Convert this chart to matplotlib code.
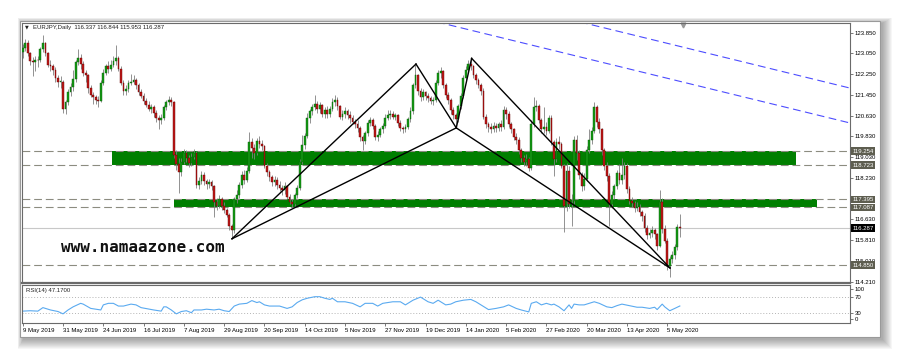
import matplotlib
matplotlib.use("Agg")
import matplotlib.pyplot as plt
from matplotlib.patches import Rectangle

plt.rcParams["font.family"] = ["Liberation Sans", "DejaVu Sans"]

W, H = 900, 359

# EURJPY daily candles, 9 May 2019 .. 12 May 2020 (16 bars per row)
opens = [
    123.10, 123.25, 123.45, 123.05, 122.75, 122.70, 122.80, 122.78, 123.20, 123.45, 123.05, 122.60, 122.55, 122.40, 122.10, 121.95,
    121.95, 120.90, 121.15, 121.55, 121.75, 122.05, 122.70, 122.85, 122.65, 122.30, 122.20, 121.70, 121.45, 121.35, 121.25, 121.20,
    121.90, 122.30, 122.55, 122.45, 122.60, 122.75, 122.85, 122.45, 121.90, 121.60, 121.65, 121.90, 121.95, 122.00, 121.80, 121.55,
    121.40, 121.20, 121.05, 120.90, 120.95, 120.75, 120.55, 120.45, 120.55, 120.95, 121.15, 121.25, 121.15, 119.10, 118.75, 118.45,
    118.85, 119.20, 119.00, 118.80, 119.05, 119.20, 117.95, 118.10, 118.35, 118.10, 118.00, 118.05, 117.90, 117.30, 117.15, 117.40,
    117.15, 117.00, 116.80, 116.35, 116.20, 117.40, 117.55, 117.95, 118.35, 118.15, 118.50, 119.60, 119.40, 119.20, 119.65, 119.55,
    119.45, 118.70, 118.45, 118.25, 118.05, 118.15, 117.95, 117.85, 117.75, 117.90, 117.50, 117.30, 117.20, 117.55, 117.85, 118.85,
    119.50, 119.85, 120.55, 120.80, 120.95, 121.10, 120.90, 121.05, 120.70, 120.85, 120.70, 120.90, 121.15, 121.25, 121.00, 120.60,
    120.70, 120.80, 120.65, 120.55, 120.40, 120.30, 120.15, 119.80, 119.65, 119.95, 120.35, 120.45, 120.25, 119.80, 119.90, 120.10,
    120.25, 120.55, 120.65, 120.70, 120.60, 120.65, 120.35, 120.15, 120.10, 120.20, 120.50, 120.80, 121.80, 122.20, 121.60, 121.35,
    121.55, 121.40, 121.30, 121.20, 121.25, 121.90, 122.30, 122.35, 121.80, 121.45, 121.25, 120.85, 120.65, 120.50, 121.00, 121.40,
    122.10, 122.40, 122.65, 122.55, 122.20, 122.00, 121.80, 121.60, 120.60, 120.30, 120.20, 120.10, 120.25, 120.15, 120.30, 120.20,
    120.85, 120.70, 120.30, 120.10, 119.80, 119.70, 119.30, 119.00, 118.85, 118.95, 118.60, 120.30, 120.95, 121.00, 120.45, 120.10,
    120.20, 120.05, 120.55, 119.60, 118.95, 119.60, 119.55, 118.70, 117.15, 118.50, 117.20, 117.35, 119.70, 119.20, 118.35, 117.90,
    118.20, 119.30, 119.70, 120.05, 120.95, 120.40, 120.10, 119.30, 118.70, 118.30, 117.20, 117.55, 117.90, 118.40, 118.15, 118.35,
    118.70, 117.80, 117.35, 117.25, 117.05, 117.10, 116.90, 116.75, 116.30, 116.00, 116.10, 116.20, 116.05, 115.60, 117.30, 116.25,
    115.80, 114.80, 115.10, 115.25, 115.55, 116.337,
]
highs = [
    123.40, 123.60, 123.55, 123.10, 122.90, 122.95, 122.95, 123.30, 123.75, 123.50, 123.10, 122.80, 122.65, 122.50, 122.20, 122.15,
    122.00, 121.25, 121.65, 121.90, 122.40, 122.80, 123.20, 123.00, 122.75, 122.40, 122.25, 121.80, 121.55, 121.45, 121.40, 122.00,
    122.45, 122.65, 122.75, 122.80, 122.95, 123.35, 122.95, 122.55, 122.00, 121.80, 122.00, 122.25, 122.20, 122.10, 121.90, 121.65,
    121.50, 121.30, 121.20, 121.10, 121.05, 120.85, 120.65, 120.70, 121.05, 121.25, 121.40, 121.35, 121.20, 119.30, 119.00, 119.00,
    119.35, 119.30, 119.10, 119.20, 119.35, 119.25, 118.25, 118.50, 118.45, 118.20, 118.20, 118.15, 117.95, 117.45, 117.55, 117.50,
    117.30, 117.05, 116.85, 116.45, 117.50, 117.75, 118.05, 118.50, 118.55, 118.65, 120.00, 119.75, 119.55, 119.75, 119.85, 119.70,
    119.50, 118.80, 118.55, 118.35, 118.30, 118.25, 118.10, 117.95, 118.05, 117.95, 117.60, 117.40, 117.65, 117.95, 118.95, 119.90,
    119.95, 120.75, 120.90, 121.10, 121.43, 121.20, 121.15, 121.10, 120.95, 121.00, 121.00, 121.30, 121.43, 121.35, 121.05, 120.85,
    120.95, 120.90, 120.80, 120.65, 120.50, 120.45, 120.25, 119.90, 120.05, 120.45, 120.60, 120.55, 120.30, 120.05, 120.20, 120.35,
    120.70, 120.85, 120.85, 120.80, 120.75, 120.70, 120.45, 120.25, 120.30, 120.60, 120.95, 121.90, 122.63, 122.25, 121.70, 121.65,
    121.60, 121.50, 121.40, 121.35, 122.00, 122.40, 122.53, 122.40, 121.90, 121.55, 121.30, 120.95, 120.75, 121.10, 121.50, 122.20,
    122.55, 122.80, 122.85, 122.60, 122.30, 122.10, 121.90, 121.70, 120.70, 120.40, 120.35, 120.40, 120.35, 120.40, 120.45, 121.00,
    120.95, 120.80, 120.40, 120.15, 119.95, 119.80, 119.40, 119.10, 119.15, 119.05, 120.45, 121.37, 121.25, 121.10, 120.55, 120.95,
    120.40, 120.65, 120.65, 119.70, 119.75, 119.85, 119.60, 118.75, 118.80, 118.70, 117.60, 119.85, 119.90, 119.30, 118.45, 118.40,
    119.45, 120.10, 120.20, 121.17, 121.05, 120.55, 120.15, 119.40, 118.85, 118.40, 117.70, 118.00, 118.55, 118.75, 119.00, 118.85,
    118.80, 117.90, 117.50, 117.35, 117.30, 117.20, 117.00, 116.85, 116.40, 116.25, 116.35, 116.30, 116.10, 117.76, 117.45, 116.40,
    115.90, 115.20, 115.40, 115.65, 116.45, 116.844,
]
lows = [
    122.85, 123.15, 122.95, 122.60, 122.15, 122.35, 122.50, 122.70, 123.10, 122.95, 122.50, 122.35, 122.20, 121.95, 121.75, 121.70,
    120.75, 120.70, 121.05, 121.40, 121.60, 121.95, 122.60, 122.45, 122.15, 121.95, 121.50, 121.35, 121.10, 121.10, 120.95, 121.15,
    121.80, 122.20, 122.30, 122.35, 122.50, 122.60, 122.35, 121.80, 121.45, 121.45, 121.55, 121.80, 121.85, 121.65, 121.45, 121.30,
    121.10, 120.95, 120.80, 120.75, 120.60, 120.40, 120.10, 120.30, 120.45, 120.85, 121.05, 121.00, 119.00, 118.55, 117.65, 118.30,
    118.75, 118.85, 118.65, 118.70, 118.95, 117.85, 117.80, 118.00, 117.95, 117.80, 117.85, 117.75, 116.70, 117.00, 117.05, 117.00,
    116.85, 116.70, 116.20, 115.87, 116.10, 117.25, 117.45, 117.85, 118.00, 118.05, 118.40, 119.00, 118.95, 119.10, 119.40, 119.30,
    118.60, 118.30, 118.10, 117.90, 117.90, 117.80, 117.70, 117.55, 117.60, 117.40, 117.20, 117.10, 117.10, 117.45, 117.75, 118.75,
    119.35, 119.75, 120.35, 120.65, 120.85, 120.75, 120.75, 120.60, 120.55, 120.55, 120.60, 120.80, 121.00, 120.85, 120.50, 120.45,
    120.55, 120.50, 120.35, 120.30, 120.15, 120.00, 119.65, 119.30, 119.55, 119.85, 120.25, 120.10, 119.70, 119.65, 119.80, 119.95,
    120.15, 120.45, 120.50, 120.50, 120.45, 120.25, 120.05, 119.95, 120.00, 120.10, 120.40, 120.70, 121.70, 121.45, 121.20, 121.25,
    121.25, 121.15, 121.10, 121.05, 121.15, 121.80, 122.10, 121.70, 121.30, 121.10, 120.70, 120.50, 120.16, 120.40, 120.90, 121.30,
    122.00, 122.30, 122.40, 122.10, 121.85, 121.70, 121.45, 120.50, 120.15, 120.00, 119.95, 120.00, 120.00, 120.05, 120.05, 120.10,
    120.50, 120.20, 119.95, 119.70, 119.55, 119.15, 118.85, 118.70, 118.70, 118.50, 118.55, 120.20, 120.80, 120.35, 119.95, 119.95,
    119.90, 119.95, 119.50, 118.30, 118.85, 119.35, 118.60, 116.15, 116.95, 117.05, 116.35, 117.20, 118.90, 118.20, 117.70, 117.75,
    118.10, 119.20, 119.55, 119.95, 120.20, 119.95, 119.10, 118.55, 118.10, 116.35, 117.05, 117.40, 117.80, 118.00, 118.00, 118.20,
    117.65, 117.20, 117.10, 116.90, 116.95, 116.75, 116.55, 116.15, 115.85, 115.90, 115.95, 115.85, 115.45, 115.55, 116.10, 115.70,
    114.65, 114.40, 114.95, 115.10, 115.45, 115.953,
]
closes = [
    123.25, 123.45, 123.05, 122.75, 122.70, 122.80, 122.78, 123.20, 123.45, 123.05, 122.60, 122.55, 122.40, 122.10, 121.95, 121.95,
    120.90, 121.15, 121.55, 121.75, 122.05, 122.70, 122.85, 122.65, 122.30, 122.20, 121.70, 121.45, 121.35, 121.25, 121.20, 121.90,
    122.30, 122.55, 122.45, 122.60, 122.75, 122.85, 122.45, 121.90, 121.60, 121.65, 121.90, 121.95, 122.00, 121.80, 121.55, 121.40,
    121.20, 121.05, 120.90, 120.95, 120.75, 120.55, 120.45, 120.55, 120.95, 121.15, 121.25, 121.15, 119.10, 118.75, 118.45, 118.85,
    119.20, 119.00, 118.80, 119.05, 119.20, 117.95, 118.10, 118.35, 118.10, 118.00, 118.05, 117.90, 117.30, 117.15, 117.40, 117.15,
    117.00, 116.80, 116.35, 116.20, 117.40, 117.55, 117.95, 118.35, 118.15, 118.50, 119.60, 119.40, 119.20, 119.65, 119.55, 119.45,
    118.70, 118.45, 118.25, 118.05, 118.15, 117.95, 117.85, 117.75, 117.90, 117.50, 117.30, 117.20, 117.55, 117.85, 118.85, 119.50,
    119.85, 120.55, 120.80, 120.95, 121.10, 120.90, 121.05, 120.70, 120.85, 120.70, 120.90, 121.15, 121.25, 121.00, 120.60, 120.70,
    120.80, 120.65, 120.55, 120.40, 120.30, 120.15, 119.80, 119.65, 119.95, 120.35, 120.45, 120.25, 119.80, 119.90, 120.10, 120.25,
    120.55, 120.65, 120.70, 120.60, 120.65, 120.35, 120.15, 120.10, 120.20, 120.50, 120.80, 121.80, 122.20, 121.60, 121.35, 121.55,
    121.40, 121.30, 121.20, 121.25, 121.90, 122.30, 122.35, 121.80, 121.45, 121.25, 120.85, 120.65, 120.50, 121.00, 121.40, 122.10,
    122.40, 122.65, 122.55, 122.20, 122.00, 121.80, 121.60, 120.60, 120.30, 120.20, 120.10, 120.25, 120.15, 120.30, 120.20, 120.85,
    120.70, 120.30, 120.10, 119.80, 119.70, 119.30, 119.00, 118.85, 118.95, 118.60, 120.30, 120.95, 121.00, 120.45, 120.10, 120.20,
    120.05, 120.55, 119.60, 118.95, 119.60, 119.55, 118.70, 117.15, 118.50, 117.20, 117.35, 119.70, 119.20, 118.35, 117.90, 118.20,
    119.30, 119.70, 120.05, 120.95, 120.40, 120.10, 119.30, 118.70, 118.30, 117.20, 117.55, 117.90, 118.40, 118.15, 118.35, 118.70,
    117.80, 117.35, 117.25, 117.05, 117.10, 116.90, 116.75, 116.30, 116.00, 116.10, 116.20, 116.05, 115.60, 117.30, 116.25, 115.80,
    114.80, 115.10, 115.25, 115.55, 116.34, 116.287,
]

date_bars = [0, 16, 32, 48, 64, 80, 96, 112, 128, 144, 160, 176, 192, 208, 224, 240, 256]
date_labels = ["9 May 2019", "31 May 2019", "24 Jun 2019", "16 Jul 2019", "7 Aug 2019",
               "29 Aug 2019", "20 Sep 2019", "14 Oct 2019", "5 Nov 2019", "27 Nov 2019",
               "19 Dec 2019", "14 Jan 2020", "5 Feb 2020", "27 Feb 2020", "20 Mar 2020",
               "13 Apr 2020", "5 May 2020"]

# 117.430 sits fully under the 117.395 tag in the original, so it is left out
price_ticks = [123.85, 123.05, 122.25, 121.45, 120.63, 119.83, 119.03, 118.23,
               116.63, 115.81, 115.01, 114.21]

# supply / demand zones (bar range, price range) and marked levels
zone_bars = [(35.5, 307.1), (60.1, 315.3)]
zone_prices = [(118.723, 119.254), (117.087, 117.395)]
level_prices = [119.254, 118.723, 117.395, 117.087, 114.850]
last_price = 116.287

# harmonic pattern X, A, B, C, D
pat_bars = [83.1, 156.2, 172.2, 178.3, 257.1]
pat_prices = [115.87, 122.63, 120.16, 122.85, 114.74]

# blue dashed channel lines
chan_bars = [(164.5, 328.6), (221.3, 328.6)]
chan_prices = [(124.26, 120.35), (124.26, 121.70)]

rsi_bars = [0, 3, 6, 8, 11, 14, 16, 18, 20, 23, 24, 27, 29, 31, 32, 34, 36, 38, 40, 43,
            45, 47, 52, 55, 56, 57, 59, 61, 63, 65, 67, 68, 71, 73, 76, 78, 80, 82, 84, 86,
            89, 91, 93, 94, 96, 98, 102, 105, 107, 109, 111, 113, 116, 118, 120, 122, 123, 125, 128, 131,
            134, 136, 139, 141, 143, 147, 150, 152, 155, 158, 161, 163, 165, 168, 170, 172, 175, 178, 180, 182,
            185, 188, 191, 193, 196, 198, 201, 202, 204, 206, 208, 210, 211, 213, 215, 217, 218, 219, 221, 223,
            225, 227, 229, 232, 234, 236, 238, 241, 244, 246, 249, 251, 252, 254, 255, 257, 259, 261]
rsi_vals = [34, 35, 34, 43, 37, 33, 27, 37, 45, 54, 52, 41, 39, 37, 50, 54, 54, 47, 47, 52,
            50, 43, 37, 34, 45, 45, 37, 27, 33, 35, 30, 37, 37, 39, 37, 39, 35, 33, 47, 52,
            54, 61, 56, 58, 50, 47, 47, 41, 45, 56, 63, 67, 71, 71, 67, 64, 67, 58, 58, 54,
            45, 54, 54, 47, 54, 58, 58, 50, 62, 70, 58, 54, 62, 50, 52, 58, 62, 64, 58, 50,
            38, 41, 45, 50, 41, 37, 32, 54, 58, 50, 54, 50, 52, 45, 35, 50, 41, 52, 50, 50,
            54, 58, 54, 45, 43, 48, 52, 48, 44, 44, 41, 44, 38, 52, 45, 35, 41, 47.17]

fig = plt.figure(figsize=(W / 100, H / 100), dpi=100)

# window chrome: soft drop shadow and frame
bg = fig.add_axes([0, 0, 1, 1], zorder=-10)
bg.set_xlim(0, W)
bg.set_ylim(H, 0)
bg.axis("off")
for k in range(10):
    bg.add_patch(Rectangle((20 - k * 0.6 + 3, 20 - k * 0.6 + 3), 860 + k * 1.6, 317 + k * 1.6,
                           fc="black", ec="none", alpha=0.035))
bg.add_patch(Rectangle((20, 20.5), 860, 316.5, fc="white", ec="#9a9a9a", lw=0.8))

x0, x1 = 22, 850
ax = fig.add_axes([x0 / W, 1 - 283.3 / H, (x1 - x0) / W, (283.3 - 22.5) / H])
ax_rsi = fig.add_axes([x0 / W, 1 - 323.3 / H, (x1 - x0) / W, (323.3 - 285) / H])

xlim = (-0.3, 328.6)

# ---------------- main price panel ----------------
ax.set_xlim(*xlim)
ax.set_ylim(114.148, 124.237)

for (b0, b1), (p0, p1) in zip(zone_bars, zone_prices):
    ax.add_patch(Rectangle((b0, p0), b1 - b0, p1 - p0, fc="#007f00", ec="none", zorder=1))
for lv in level_prices:
    ax.axhline(lv, color="#8c8c80", lw=0.8, dashes=(7, 3.5), zorder=1.5)
ax.axhline(last_price, color="#c8c8c8", lw=0.8, zorder=1.2)

for (b0, b1), (p0, p1) in zip(chan_bars, chan_prices):
    ax.plot([b0, b1], [p0, p1], color="#4d4dff", lw=0.8, dashes=(7, 4), zorder=2)

idx = list(range(len(closes)))
ax.vlines(idx, lows, highs, color="#808080", lw=0.6, zorder=3)
for i in idx:
    o, c = opens[i], closes[i]
    up = c >= o
    ax.bar(i, max(abs(c - o), 0.02), bottom=min(o, c), width=0.7,
           color="#139a13" if up else "#c01818",
           edgecolor="#0a5e0a" if up else "#650000", lw=0.3, zorder=3.5)

segs = [(0, 1), (1, 2), (2, 3), (3, 4), (0, 2), (2, 4)]
for a, b in segs:
    ax.plot([pat_bars[a], pat_bars[b]], [pat_prices[a], pat_prices[b]],
            color="black", lw=1.0, zorder=4)

ax.text((61 - x0) / (x1 - x0), (283.3 - 247.7) / 260.8, "www.namaazone.com",
        transform=ax.transAxes, family="DejaVu Sans Mono", weight="bold",
        fontsize=11.5, color="#111111", va="center", ha="left", zorder=6)

ax.text((24.5 - x0) / (x1 - x0), (283.3 - 27) / 260.8, "\u25bc", transform=ax.transAxes,
        family="DejaVu Sans", fontsize=3.5, va="center", ha="left", color="#222222")
ax.text((32.7 - x0) / (x1 - x0), (283.3 - 27) / 260.8,
        "EURJPY,Daily  116.337 116.844 115.953 116.287", transform=ax.transAxes,
        fontsize=4.3, va="center", ha="left", color="#222222")
ax.plot([(683 - x0) / (x1 - x0)], [0.992], marker="v", ms=3.5, color="#9a9a9a",
        transform=ax.transAxes, clip_on=False)

ax.set_xticks([])
ax.yaxis.tick_right()
ax.set_yticks(price_ticks)
ax.set_yticklabels([f"{p:.3f}" for p in price_ticks])
ax.tick_params(axis="y", length=2, width=0.5, pad=1.5, labelsize=4.3, color="#444444")
for sp in ax.spines.values():
    sp.set_color("#6a6a6a")
    sp.set_linewidth(0.8)
ax.spines["bottom"].set_linewidth(1.6)

for lv in level_prices:
    ax.text(1.0 + 2.5 / (x1 - x0), lv, f"{lv:.3f}", transform=ax.get_yaxis_transform(),
            fontsize=4.3, color="white", va="center", ha="left", clip_on=False, zorder=10,
            bbox=dict(boxstyle="square,pad=0.22", fc="#5e5e50", ec="none"))
ax.text(1.0 + 2.5 / (x1 - x0), last_price, f"{last_price:.3f}", transform=ax.get_yaxis_transform(),
        fontsize=4.3, color="white", va="center", ha="left", clip_on=False, zorder=10,
        bbox=dict(boxstyle="square,pad=0.22", fc="black", ec="none"))

# ---------------- RSI panel ----------------
ax_rsi.set_xlim(*xlim)
ax_rsi.set_ylim(2.8, 101)
for lv in (70, 30):
    ax_rsi.axhline(lv, color="#b4b4b4", lw=0.7, ls=(0, (1, 2)))
ax_rsi.plot(rsi_bars, rsi_vals, color="#5aaaf0", lw=0.8)
ax_rsi.text((25.7 - x0) / (x1 - x0), 0.85, "RSI(14) 47.1700", transform=ax_rsi.transAxes,
            fontsize=4.3, va="center", ha="left", color="#222222")

ax_rsi.yaxis.tick_right()
ax_rsi.set_yticks([90, 70, 30, 13])
ax_rsi.set_yticklabels(["100", "70", "30", "0"])
ax_rsi.tick_params(axis="y", length=2, width=0.5, pad=1.5, labelsize=4.3, color="#444444")
ax_rsi.set_xticks(date_bars)
ax_rsi.set_xticklabels(date_labels)
ax_rsi.tick_params(axis="x", length=2, width=0.5, pad=1.5, labelsize=4.3, color="#444444")
for lab in ax_rsi.get_xticklabels():
    lab.set_ha("left")
for sp in ax_rsi.spines.values():
    sp.set_color("#6a6a6a")
    sp.set_linewidth(0.8)

fig.savefig("out.png", dpi=100)
